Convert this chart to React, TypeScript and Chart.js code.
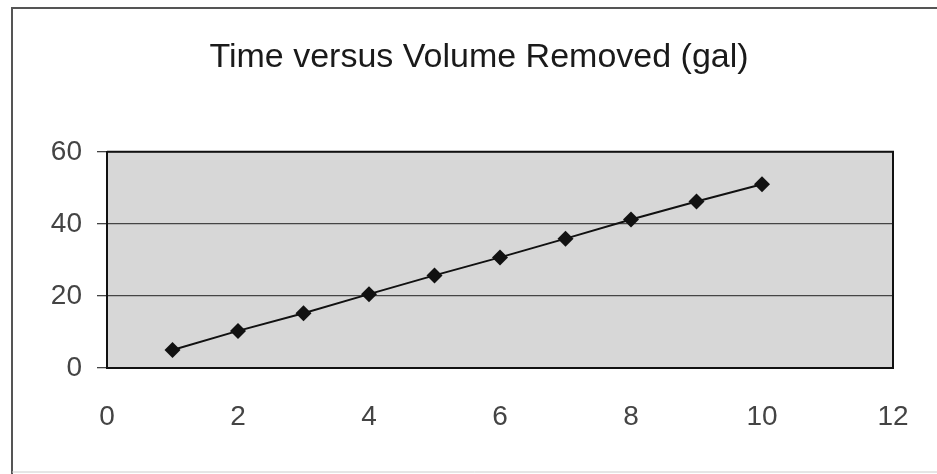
import React, { useEffect, useRef } from "react";
import { Chart, registerables } from "chart.js";

Chart.register(...registerables);

const titleText = "Time versus Volume Removed (gal)";
const timeValues = [1, 2, 3, 4, 5, 6, 7, 8, 9, 10];
const volumeValues = [5, 10.3, 15.2, 20.5, 25.7, 30.7, 35.9, 41.2, 46.2, 51];
const xTickRange = { min: 0, max: 12, step: 2 };
const yTickRange = { min: 0, max: 60, step: 20 };

const framePlugin = {
  id: "frame",
  beforeDraw(chart: any) {
    const { ctx, chartArea } = chart;
    ctx.save();
    ctx.fillStyle = "#ffffff";
    ctx.fillRect(0, 0, chart.width, chart.height);
    ctx.strokeStyle = "#555";
    ctx.lineWidth = 2;
    ctx.beginPath();
    ctx.moveTo(12, chart.height);
    ctx.lineTo(12, 8);
    ctx.lineTo(chart.width, 8);
    ctx.stroke();
    ctx.strokeStyle = "#ccc";
    ctx.lineWidth = 1;
    ctx.beginPath();
    ctx.moveTo(12, chart.height - 2);
    ctx.lineTo(chart.width, chart.height - 2);
    ctx.stroke();
    ctx.fillStyle = "#d7d7d7";
    ctx.fillRect(chartArea.left, chartArea.top, chartArea.right - chartArea.left, chartArea.bottom - chartArea.top);
    ctx.restore();
  },
  afterDraw(chart: any) {
    const { ctx, chartArea } = chart;
    ctx.save();
    ctx.strokeStyle = "#111";
    ctx.lineWidth = 2;
    ctx.beginPath();
    ctx.moveTo(chartArea.left, chartArea.top);
    ctx.lineTo(chartArea.right, chartArea.top);
    ctx.lineTo(chartArea.right, chartArea.bottom);
    ctx.stroke();
    ctx.restore();
  },
};

export default function App() {
  const ref = useRef<HTMLCanvasElement | null>(null);
  useEffect(() => {
    if (!ref.current) return;
    const chart = new Chart(ref.current, {
      type: "line",
      data: {
        datasets: [
          {
            data: timeValues.map((t, i) => ({ x: t, y: volumeValues[i] })),
            borderColor: "#111",
            backgroundColor: "#111",
            borderWidth: 2,
            pointStyle: "rectRot",
            pointRadius: 8,
            pointBorderWidth: 0,
            tension: 0,
            yAxisID: "y",
          },
        ],
      },
      options: {
        responsive: false,
        animation: false,
        layout: { padding: { left: 21, right: 0, top: 0, bottom: 0 } },
        plugins: {
          legend: { display: false },
          tooltip: { enabled: false },
          title: {
            display: true,
            text: titleText,
            color: "#1a1a1a",
            font: { family: "Liberation Sans, Arial, sans-serif", size: 34, weight: "normal", lineHeight: 1.2 },
            padding: { top: 37, bottom: 74 },
          },
        },
        scales: {
          x: {
            type: "linear",
            min: xTickRange.min,
            max: xTickRange.max,
            afterFit: (s: any) => {
              s.height = 106;
            },
            ticks: {
              stepSize: xTickRange.step,
              color: "#444",
              padding: 2,
              font: { family: "Liberation Sans, Arial, sans-serif", size: 28 },
            },
            grid: {
              display: true,
              drawOnChartArea: false,
              drawTicks: true,
              tickLength: 30,
              tickColor: "rgba(0,0,0,0)",
            },
            border: { display: true, color: "#111", width: 2 },
          },
          y: {
            type: "linear",
            min: yTickRange.min,
            max: yTickRange.max,
            afterFit: (s: any) => {
              s.width = 86;
            },
            ticks: {
              stepSize: yTickRange.step,
              color: "#444",
              padding: 15,
              font: { family: "Liberation Sans, Arial, sans-serif", size: 28 },
            },
            grid: { color: "#444", lineWidth: 1.3, tickLength: 10, drawTicks: true },
            border: { display: true, color: "#111", width: 2 },
          },
          yRight: {
            type: "linear",
            position: "right",
            min: yTickRange.min,
            max: yTickRange.max,
            afterFit: (s: any) => {
              s.width = 44;
            },
            ticks: { display: false },
            grid: { display: false },
            border: { display: false },
          },
        },
      },
      plugins: [framePlugin],
    });
    return () => chart.destroy();
  }, []);
  return (
    <div style={{ position: "absolute", left: 0, top: 0, width: 937, height: 474 }}>
      <canvas ref={ref} width={937} height={474} style={{ display: "block" }} />
    </div>
  );
}
